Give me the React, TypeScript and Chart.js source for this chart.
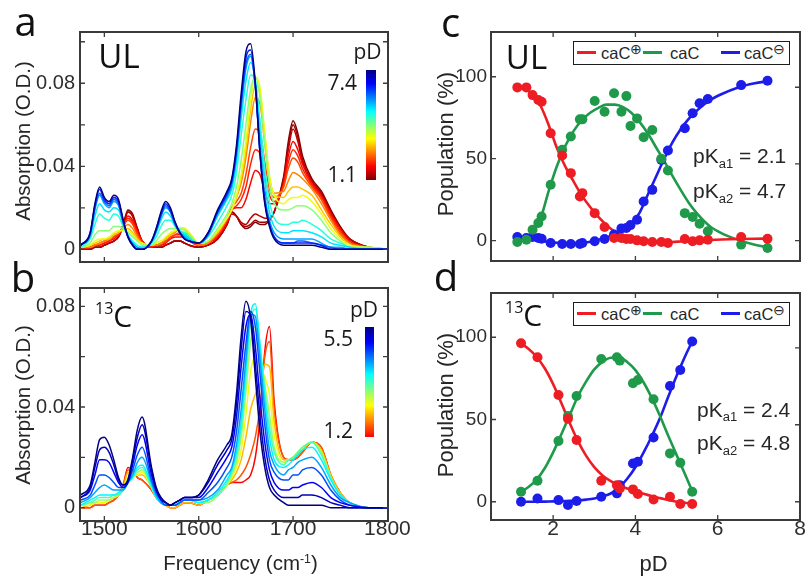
import React, { useEffect, useRef } from 'react';
import { Chart, registerables } from 'chart.js';

Chart.register(...registerables);

// ================= DATA =================
// Frequency grid (cm^-1) shared by all spectra
const FREQ = [1475, 1485, 1490, 1495, 1500, 1505, 1510, 1515, 1520, 1525,
  1530, 1535, 1540, 1550, 1555, 1560, 1565, 1570, 1575, 1580,
  1585, 1590, 1600, 1610, 1620, 1630, 1635, 1640, 1645, 1650,
  1655, 1660, 1665, 1670, 1675, 1680, 1690, 1695, 1700, 1705,
  1710, 1720, 1730, 1740, 1750, 1760, 1780, 1800];

// Panel a: UL spectra (absorption, O.D.) at each pD
const UL_PD = [1.1, 1.3, 1.5, 1.9, 2.1, 2.3, 2.7, 3.1, 3.6, 4.2, 4.8, 5.2, 5.6, 6.0, 6.4, 7.4];
const UL_PD_11 = [0.000, 0.000, 0.001, 0.001, 0.002, 0.003, 0.004, 0.006, 0.012, 0.019,
  0.017, 0.010, 0.004, 0.001, 0.001, 0.001, 0.002, 0.003, 0.004, 0.004,
  0.003, 0.002, 0.001, 0.002, 0.005, 0.012, 0.018, 0.016, 0.012, 0.010,
  0.011, 0.013, 0.012, 0.012, 0.014, 0.018, 0.035, 0.052, 0.062, 0.056,
  0.045, 0.034, 0.028, 0.019, 0.011, 0.005, 0.001, 0.000];
const UL_PD_13 = [0.000, 0.000, 0.001, 0.001, 0.002, 0.003, 0.004, 0.006, 0.012, 0.018,
  0.016, 0.010, 0.004, 0.001, 0.001, 0.001, 0.002, 0.003, 0.004, 0.004,
  0.003, 0.002, 0.001, 0.002, 0.005, 0.012, 0.018, 0.016, 0.012, 0.011,
  0.012, 0.014, 0.013, 0.013, 0.014, 0.018, 0.034, 0.050, 0.060, 0.054,
  0.043, 0.033, 0.027, 0.018, 0.010, 0.005, 0.001, 0.000];
const UL_PD_15 = [0.000, 0.000, 0.001, 0.001, 0.002, 0.003, 0.004, 0.006, 0.011, 0.018,
  0.016, 0.009, 0.004, 0.001, 0.001, 0.001, 0.002, 0.003, 0.004, 0.004,
  0.003, 0.002, 0.001, 0.002, 0.005, 0.012, 0.017, 0.016, 0.013, 0.012,
  0.015, 0.017, 0.016, 0.015, 0.015, 0.018, 0.033, 0.048, 0.058, 0.052,
  0.042, 0.032, 0.026, 0.018, 0.010, 0.005, 0.001, 0.000];
const UL_PD_19 = [0.000, 0.001, 0.002, 0.002, 0.003, 0.004, 0.005, 0.007, 0.011, 0.016,
  0.014, 0.009, 0.004, 0.001, 0.002, 0.002, 0.003, 0.005, 0.006, 0.006,
  0.006, 0.004, 0.002, 0.003, 0.006, 0.013, 0.019, 0.020, 0.020, 0.024,
  0.032, 0.038, 0.036, 0.028, 0.022, 0.022, 0.032, 0.045, 0.052, 0.048,
  0.041, 0.032, 0.026, 0.017, 0.010, 0.004, 0.001, 0.000];
const UL_PD_21 = [0.000, 0.001, 0.002, 0.002, 0.003, 0.004, 0.006, 0.007, 0.011, 0.015,
  0.013, 0.008, 0.004, 0.001, 0.002, 0.002, 0.004, 0.005, 0.007, 0.007,
  0.007, 0.005, 0.002, 0.003, 0.007, 0.014, 0.019, 0.021, 0.024, 0.030,
  0.041, 0.048, 0.046, 0.035, 0.026, 0.023, 0.031, 0.042, 0.048, 0.045,
  0.039, 0.031, 0.025, 0.016, 0.009, 0.004, 0.001, 0.000];
const UL_PD_23 = [0.001, 0.001, 0.002, 0.003, 0.004, 0.005, 0.006, 0.008, 0.011, 0.014,
  0.012, 0.007, 0.003, 0.002, 0.002, 0.003, 0.004, 0.006, 0.007, 0.008,
  0.008, 0.006, 0.002, 0.003, 0.007, 0.014, 0.020, 0.023, 0.027, 0.036,
  0.049, 0.058, 0.056, 0.042, 0.029, 0.025, 0.030, 0.039, 0.044, 0.042,
  0.037, 0.030, 0.024, 0.015, 0.008, 0.003, 0.001, 0.000];
const UL_PD_27 = [0.001, 0.001, 0.002, 0.003, 0.004, 0.005, 0.007, 0.008, 0.010, 0.012,
  0.010, 0.006, 0.003, 0.002, 0.002, 0.003, 0.005, 0.007, 0.008, 0.010,
  0.010, 0.007, 0.002, 0.003, 0.008, 0.015, 0.020, 0.025, 0.032, 0.044,
  0.061, 0.073, 0.070, 0.051, 0.034, 0.027, 0.028, 0.033, 0.037, 0.036,
  0.034, 0.029, 0.022, 0.014, 0.007, 0.003, 0.001, 0.000];
const UL_PD_31 = [0.001, 0.002, 0.003, 0.004, 0.005, 0.005, 0.007, 0.008, 0.010, 0.010,
  0.008, 0.005, 0.003, 0.002, 0.003, 0.004, 0.005, 0.007, 0.009, 0.010,
  0.010, 0.008, 0.003, 0.004, 0.008, 0.015, 0.019, 0.025, 0.034, 0.048,
  0.067, 0.079, 0.075, 0.055, 0.035, 0.026, 0.025, 0.028, 0.030, 0.030,
  0.029, 0.026, 0.019, 0.012, 0.006, 0.002, 0.001, 0.000];
const UL_PD_36 = [0.001, 0.002, 0.004, 0.005, 0.005, 0.006, 0.008, 0.009, 0.009, 0.009,
  0.007, 0.004, 0.003, 0.002, 0.003, 0.004, 0.006, 0.008, 0.009, 0.010,
  0.010, 0.008, 0.003, 0.004, 0.009, 0.015, 0.019, 0.026, 0.036, 0.052,
  0.072, 0.083, 0.078, 0.056, 0.035, 0.026, 0.022, 0.024, 0.025, 0.025,
  0.026, 0.023, 0.017, 0.010, 0.005, 0.002, 0.001, 0.000];
const UL_PD_42 = [0.001, 0.003, 0.007, 0.009, 0.009, 0.009, 0.011, 0.011, 0.010, 0.008,
  0.006, 0.004, 0.002, 0.002, 0.004, 0.007, 0.009, 0.010, 0.010, 0.010,
  0.009, 0.007, 0.003, 0.004, 0.010, 0.017, 0.022, 0.030, 0.043, 0.060,
  0.077, 0.083, 0.073, 0.051, 0.031, 0.022, 0.019, 0.019, 0.020, 0.021,
  0.021, 0.019, 0.014, 0.008, 0.004, 0.001, 0.001, 0.000];
const UL_PD_48 = [0.001, 0.005, 0.012, 0.017, 0.015, 0.014, 0.017, 0.016, 0.011, 0.007,
  0.004, 0.002, 0.001, 0.003, 0.006, 0.011, 0.014, 0.014, 0.011, 0.009,
  0.008, 0.006, 0.003, 0.006, 0.013, 0.021, 0.026, 0.037, 0.055, 0.072,
  0.084, 0.081, 0.062, 0.039, 0.023, 0.015, 0.012, 0.012, 0.013, 0.013,
  0.014, 0.012, 0.009, 0.005, 0.003, 0.001, 0.000, 0.000];
const UL_PD_52 = [0.002, 0.006, 0.016, 0.022, 0.019, 0.018, 0.020, 0.019, 0.012, 0.007,
  0.003, 0.001, 0.001, 0.003, 0.008, 0.014, 0.018, 0.016, 0.012, 0.009,
  0.007, 0.005, 0.003, 0.007, 0.016, 0.024, 0.029, 0.042, 0.063, 0.081,
  0.090, 0.081, 0.056, 0.033, 0.018, 0.011, 0.008, 0.008, 0.009, 0.009,
  0.009, 0.008, 0.006, 0.003, 0.002, 0.001, 0.000, 0.000];
const UL_PD_56 = [0.002, 0.007, 0.019, 0.026, 0.022, 0.020, 0.023, 0.021, 0.013, 0.006,
  0.003, 0.001, 0.000, 0.004, 0.009, 0.016, 0.020, 0.018, 0.012, 0.008,
  0.006, 0.004, 0.003, 0.007, 0.017, 0.025, 0.031, 0.045, 0.068, 0.087,
  0.093, 0.079, 0.050, 0.026, 0.014, 0.008, 0.005, 0.005, 0.005, 0.005,
  0.005, 0.005, 0.003, 0.001, 0.001, 0.000, 0.000, 0.000];
const UL_PD_60 = [0.002, 0.007, 0.020, 0.027, 0.023, 0.021, 0.024, 0.022, 0.013, 0.006,
  0.002, 0.000, 0.000, 0.004, 0.009, 0.016, 0.021, 0.018, 0.012, 0.008,
  0.005, 0.004, 0.003, 0.007, 0.018, 0.026, 0.032, 0.047, 0.070, 0.089,
  0.094, 0.078, 0.047, 0.024, 0.012, 0.006, 0.003, 0.003, 0.003, 0.004,
  0.004, 0.003, 0.002, 0.001, 0.000, 0.000, 0.000, 0.000];
const UL_PD_64 = [0.002, 0.008, 0.021, 0.029, 0.024, 0.022, 0.025, 0.023, 0.014, 0.006,
  0.002, 0.000, 0.000, 0.004, 0.010, 0.017, 0.022, 0.019, 0.013, 0.008,
  0.005, 0.004, 0.003, 0.008, 0.018, 0.027, 0.033, 0.048, 0.072, 0.092,
  0.096, 0.079, 0.046, 0.023, 0.012, 0.006, 0.003, 0.003, 0.003, 0.003,
  0.003, 0.003, 0.002, 0.000, 0.000, 0.000, 0.000, 0.000];
const UL_PD_74 = [0.002, 0.008, 0.022, 0.030, 0.025, 0.023, 0.026, 0.024, 0.014, 0.006,
  0.002, 0.000, 0.000, 0.004, 0.010, 0.018, 0.023, 0.020, 0.013, 0.008,
  0.005, 0.004, 0.003, 0.008, 0.019, 0.028, 0.034, 0.050, 0.075, 0.095,
  0.099, 0.080, 0.046, 0.022, 0.011, 0.005, 0.002, 0.002, 0.002, 0.002,
  0.002, 0.002, 0.001, 0.000, 0.000, 0.000, 0.000, 0.000];
const UL_SPECTRA = [UL_PD_11, UL_PD_13, UL_PD_15, UL_PD_19, UL_PD_21, UL_PD_23, UL_PD_27, UL_PD_31,
  UL_PD_36, UL_PD_42, UL_PD_48, UL_PD_52, UL_PD_56, UL_PD_60, UL_PD_64, UL_PD_74];

// Panel b: 13C spectra
const C13_PD = [1.2, 1.6, 2.1, 2.5, 2.9, 3.3, 3.7, 4.1, 4.5, 4.9, 5.2, 5.5];
const C13_PD_12 = [0.000, 0.000, 0.001, 0.001, 0.001, 0.002, 0.003, 0.005, 0.009, 0.016,
  0.015, 0.012, 0.011, 0.007, 0.004, 0.002, 0.001, 0.000, 0.000, 0.001,
  0.002, 0.002, 0.001, 0.003, 0.005, 0.009, 0.010, 0.010, 0.010, 0.011,
  0.013, 0.020, 0.036, 0.062, 0.072, 0.042, 0.020, 0.019, 0.019, 0.020,
  0.022, 0.026, 0.024, 0.013, 0.006, 0.002, 0.000, 0.000];
const C13_PD_16 = [0.000, 0.000, 0.001, 0.001, 0.001, 0.002, 0.003, 0.005, 0.009, 0.015,
  0.015, 0.012, 0.011, 0.007, 0.004, 0.002, 0.001, 0.000, 0.000, 0.001,
  0.002, 0.002, 0.001, 0.003, 0.005, 0.009, 0.010, 0.011, 0.013, 0.016,
  0.021, 0.028, 0.040, 0.060, 0.066, 0.039, 0.020, 0.019, 0.019, 0.020,
  0.022, 0.026, 0.024, 0.013, 0.006, 0.002, 0.000, 0.000];
const C13_PD_21 = [0.000, 0.001, 0.002, 0.002, 0.002, 0.003, 0.004, 0.005, 0.008, 0.014,
  0.014, 0.013, 0.013, 0.008, 0.004, 0.002, 0.001, 0.000, 0.000, 0.001,
  0.002, 0.002, 0.001, 0.003, 0.005, 0.009, 0.011, 0.014, 0.019, 0.028,
  0.039, 0.045, 0.049, 0.057, 0.056, 0.034, 0.019, 0.019, 0.020, 0.021,
  0.023, 0.026, 0.023, 0.013, 0.006, 0.002, 0.000, 0.000];
const C13_PD_25 = [0.001, 0.001, 0.002, 0.002, 0.002, 0.003, 0.004, 0.005, 0.008, 0.012,
  0.013, 0.013, 0.014, 0.008, 0.004, 0.002, 0.001, 0.001, 0.001, 0.002,
  0.003, 0.003, 0.002, 0.003, 0.005, 0.009, 0.012, 0.016, 0.023, 0.037,
  0.054, 0.060, 0.056, 0.052, 0.045, 0.029, 0.018, 0.019, 0.020, 0.022,
  0.024, 0.026, 0.022, 0.012, 0.005, 0.002, 0.000, 0.000];
const C13_PD_29 = [0.001, 0.002, 0.002, 0.003, 0.003, 0.003, 0.004, 0.005, 0.008, 0.011,
  0.012, 0.014, 0.015, 0.008, 0.004, 0.002, 0.001, 0.001, 0.001, 0.002,
  0.003, 0.003, 0.002, 0.002, 0.005, 0.009, 0.013, 0.018, 0.028, 0.046,
  0.066, 0.072, 0.062, 0.049, 0.037, 0.024, 0.018, 0.019, 0.020, 0.022,
  0.024, 0.026, 0.022, 0.012, 0.005, 0.002, 0.000, 0.000];
const C13_PD_33 = [0.001, 0.002, 0.003, 0.004, 0.004, 0.004, 0.005, 0.005, 0.007, 0.010,
  0.012, 0.015, 0.016, 0.008, 0.004, 0.002, 0.001, 0.001, 0.001, 0.002,
  0.003, 0.003, 0.002, 0.003, 0.005, 0.010, 0.014, 0.020, 0.031, 0.051,
  0.074, 0.079, 0.065, 0.047, 0.032, 0.022, 0.017, 0.019, 0.020, 0.022,
  0.024, 0.026, 0.021, 0.012, 0.005, 0.002, 0.000, 0.000];
const C13_PD_37 = [0.001, 0.003, 0.004, 0.005, 0.005, 0.005, 0.005, 0.006, 0.007, 0.010,
  0.012, 0.016, 0.017, 0.009, 0.004, 0.002, 0.001, 0.001, 0.001, 0.002,
  0.003, 0.003, 0.002, 0.003, 0.006, 0.011, 0.015, 0.022, 0.034, 0.055,
  0.077, 0.081, 0.064, 0.044, 0.028, 0.019, 0.016, 0.017, 0.019, 0.021,
  0.023, 0.024, 0.019, 0.011, 0.005, 0.002, 0.000, 0.000];
const C13_PD_41 = [0.002, 0.004, 0.006, 0.008, 0.009, 0.008, 0.007, 0.007, 0.007, 0.010,
  0.013, 0.018, 0.020, 0.010, 0.005, 0.002, 0.001, 0.001, 0.001, 0.002,
  0.003, 0.003, 0.003, 0.004, 0.007, 0.013, 0.016, 0.025, 0.039, 0.059,
  0.077, 0.076, 0.059, 0.039, 0.023, 0.017, 0.013, 0.015, 0.016, 0.018,
  0.019, 0.020, 0.016, 0.009, 0.004, 0.002, 0.000, 0.000];
const C13_PD_45 = [0.003, 0.005, 0.009, 0.013, 0.013, 0.012, 0.010, 0.008, 0.008, 0.010,
  0.015, 0.021, 0.024, 0.011, 0.006, 0.003, 0.001, 0.001, 0.001, 0.002,
  0.003, 0.003, 0.003, 0.006, 0.010, 0.016, 0.020, 0.030, 0.047, 0.065,
  0.078, 0.072, 0.053, 0.033, 0.019, 0.014, 0.011, 0.011, 0.013, 0.013,
  0.015, 0.016, 0.013, 0.007, 0.003, 0.001, 0.000, 0.000];
const C13_PD_49 = [0.004, 0.007, 0.013, 0.019, 0.019, 0.018, 0.014, 0.010, 0.008, 0.010,
  0.017, 0.025, 0.029, 0.013, 0.007, 0.003, 0.002, 0.001, 0.002, 0.003,
  0.004, 0.004, 0.004, 0.008, 0.014, 0.020, 0.024, 0.036, 0.056, 0.072,
  0.077, 0.064, 0.043, 0.026, 0.015, 0.010, 0.007, 0.007, 0.008, 0.008,
  0.009, 0.010, 0.008, 0.004, 0.002, 0.001, 0.000, 0.000];
const C13_PD_52 = [0.004, 0.008, 0.016, 0.023, 0.024, 0.022, 0.017, 0.011, 0.009, 0.011,
  0.019, 0.028, 0.033, 0.015, 0.007, 0.004, 0.002, 0.001, 0.002, 0.003,
  0.004, 0.004, 0.005, 0.010, 0.017, 0.023, 0.027, 0.041, 0.063, 0.078,
  0.076, 0.057, 0.036, 0.020, 0.011, 0.007, 0.004, 0.004, 0.004, 0.004,
  0.005, 0.005, 0.004, 0.002, 0.001, 0.000, 0.000, 0.000];
const C13_PD_55 = [0.005, 0.009, 0.018, 0.027, 0.028, 0.025, 0.019, 0.012, 0.009, 0.011,
  0.020, 0.031, 0.036, 0.016, 0.008, 0.004, 0.002, 0.001, 0.002, 0.003,
  0.004, 0.004, 0.005, 0.011, 0.019, 0.025, 0.029, 0.045, 0.068, 0.082,
  0.075, 0.052, 0.030, 0.016, 0.008, 0.005, 0.002, 0.001, 0.001, 0.001,
  0.001, 0.001, 0.001, 0.000, 0.000, 0.000, 0.000, 0.000];
const C13_SPECTRA = [C13_PD_12, C13_PD_16, C13_PD_21, C13_PD_25, C13_PD_29, C13_PD_33,
  C13_PD_37, C13_PD_41, C13_PD_45, C13_PD_49, C13_PD_52, C13_PD_55];

// Panel c: UL populations (%)
const UL_PTS_PD = [1.13, 1.35, 1.50, 1.64, 1.72, 1.94, 2.22, 2.43, 2.65, 2.71, 3.01, 3.25, 3.48, 3.66,
  3.78, 3.88, 4.04, 4.20, 4.41, 4.63, 4.79, 5.20, 5.39, 5.56, 5.76, 6.57, 7.21];
const UL_CATION = [93.5, 93.5, 88.8, 85.8, 84.8, 65.5, 52.0, 41.2, 27.0, 29.0, 16.8, 8.3, 1.6, 1.6,
  1.0, 1.0, 0.2, -0.4, -0.8, -0.8, -1.4, 1.0, -0.4, 0.2, 0.6, 2.2, 1.2];
const UL_NEUTRAL = [-0.8, 0.6, 6.7, 10.8, 14.8, 34.1, 55.4, 63.5, 74.0, 74.0, 85.2, 78.7, 89.9, 78.7,
  88.2, 70.0, 74.6, 63.1, 67.5, 50.0, 42.8, 16.8, 14.4, 10.3, 5.7, -2.4, -4.5];
const UL_ANION = [2.2, 1.6, 2.2, 1.6, 1.2, -1.4, -2.0, -2.0, -2.0, -1.4, -0.4, 1.0, 3.7, 7.5,
  7.7, 9.5, 12.8, 23.9, 31.0, 49.3, 55.0, 68.6, 77.7, 83.8, 86.4, 94.9, 97.6];
const UL_FIT_PD = [1.13, 1.3, 1.5, 1.7, 1.9, 2.1, 2.3, 2.5, 2.7, 2.9, 3.1, 3.3, 3.5, 3.7,
  3.9, 4.1, 4.3, 4.5, 4.7, 4.9, 5.1, 5.3, 5.5, 5.8, 6.1, 6.5, 6.9, 7.21];
const UL_FIT_CATION = [94.5, 93, 89, 82, 70, 56, 45, 36, 27.5, 20.5, 14.5, 9.5, 5.5, 3,
  1.5, 0.3, -0.5, -1, -1, -0.8, -0.5, -0.2, 0, 0.4, 0.7, 1, 1.2, 1.3];
const UL_FIT_NEUTRAL = [-0.5, 1, 5, 14, 31, 46, 58, 67, 73.5, 78, 81, 83, 83, 81.5,
  78, 72.5, 65.5, 57, 48.5, 39.5, 31, 23, 16.5, 9, 4.5, 0.5, -2.5, -4];
const UL_FIT_ANION = [2.2, 1.8, 1, 0, -0.8, -1.3, -1.6, -1.6, -1.3, -0.6, 0.5, 2, 4, 7,
  10.5, 17, 28, 39, 50, 60, 68, 74.5, 79.5, 85.5, 89.5, 93.5, 96, 97.3];

// Panel d: 13C populations (%)
const C13_PTS_PD = [1.22, 1.62, 2.13, 2.36, 2.57, 3.17, 3.55, 3.62, 3.94, 4.06, 4.44, 4.84, 5.09, 5.38];
const C13_CATION = [96.3, 87.8, 64.9, 50.5, 37.5, 12.8, 10.1, 8.0, 7.5, 4.7, 1.4, 3.0, -1.4, -1.4];
const C13_NEUTRAL = [6.1, 12.8, 36.9, 52.1, 64.3, 86.8, 87.8, 85.8, 72.0, 74.0, 62.3, 29.4, 23.7, 6.1];
const C13_ANION = [0, 2.0, 1.0, -2.0, 0.4, 3.0, 5.1, 10.1, 23.3, 24.3, 39.1, 70.4, 80.1, 97.4];
const C13_FIT_PD = [1.22, 1.4, 1.6, 1.8, 2.0, 2.2, 2.4, 2.6, 2.8, 3.0, 3.2, 3.4, 3.6, 3.8,
  4.0, 4.2, 4.4, 4.6, 4.8, 5.0, 5.2, 5.38];
const C13_FIT_CATION = [96.3, 93, 88, 81, 71.5, 60, 48, 37, 28, 21, 16, 12.5, 10, 8,
  6.3, 4.8, 3.4, 2.2, 1, 0, -0.6, -1];
const C13_FIT_NEUTRAL = [6, 9, 13.5, 20.5, 30, 41, 52.5, 64, 73, 80.5, 85, 87.5, 87.7, 85,
  80, 72.5, 63, 52, 40, 28.5, 17, 6.5];
const C13_FIT_ANION = [0, 0, 0, 0.1, 0.2, 0.3, 0.5, 0.8, 1.3, 2.0, 3.2, 5, 8.5, 14,
  21, 30, 40, 51, 64, 76.5, 88, 97.5];

// Right-hand tick marks of the population panels (as drawn in the figure)
const POP_RIGHT_TICKS = [0, 46.8, 93.6];

// Annotation values
const UL_PKA = ['2.1', '4.7'];
const C13_PKA = ['2.4', '4.8'];
const UL_PD_RANGE = ['7.4', '1.1'];
const C13_PD_RANGE = ['5.5', '1.2'];

// ================= STYLE =================
const ARIAL = '"Liberation Sans", Arial, Helvetica, sans-serif';
const OPEN = '"Open Sans", "Noto Sans", "DejaVu Sans", sans-serif';
const INK = '#262626';
const TICK_INK = '#2e2e2e';
const RED = '#ee1d23';
const GREEN = '#1f9a4b';
const BLUE = '#1d1de9';
const LP = 6;
const AXW = 60;

function jet(v: number): string {
  const c = (x: number) => Math.max(0, Math.min(1, x));
  const r = c(1.5 - Math.abs(4 * v - 3));
  const g = c(1.5 - Math.abs(4 * v - 2));
  const b = c(1.5 - Math.abs(4 * v - 1));
  return `rgb(${Math.round(r * 255)},${Math.round(g * 255)},${Math.round(b * 255)})`;
}

const JET_FULL =
  'linear-gradient(to bottom, rgb(0,0,128) 0%, rgb(0,0,255) 12.5%, rgb(0,255,255) 37.5%, rgb(255,255,0) 62.5%, rgb(255,0,0) 87.5%, rgb(128,0,0) 100%)';
const JET_TO_RED =
  'linear-gradient(to bottom, rgb(0,0,128) 0%, rgb(0,0,255) 14.3%, rgb(0,255,255) 42.9%, rgb(255,255,0) 71.4%, rgb(255,0,0) 100%)';

const framePlugin = {
  id: 'frame',
  afterDatasetsDraw(chart: any, _args: any, opts: any) {
    const { ctx, chartArea: a, scales } = chart;
    const L = 5;
    ctx.save();
    ctx.strokeStyle = '#3d3d3d';
    ctx.lineWidth = 1.3;
    ctx.beginPath();
    for (const t of scales.x.ticks) {
      const p = scales.x.getPixelForValue(t.value);
      if (p > a.left + 2 && p < a.right - 2) {
        ctx.moveTo(p, a.bottom); ctx.lineTo(p, a.bottom - L);
        ctx.moveTo(p, a.top); ctx.lineTo(p, a.top + L);
      }
    }
    const yl = scales.y.ticks.map((t: any) => t.value);
    const yr = opts && opts.rightTicks ? opts.rightTicks : yl;
    for (const v of yl) {
      const p = scales.y.getPixelForValue(v);
      if (p > a.top + 2 && p < a.bottom - 2) { ctx.moveTo(a.left, p); ctx.lineTo(a.left + L, p); }
    }
    for (const v of yr) {
      const p = scales.y.getPixelForValue(v);
      if (p > a.top + 2 && p < a.bottom - 2) { ctx.moveTo(a.right, p); ctx.lineTo(a.right - L, p); }
    }
    ctx.stroke();
    ctx.lineWidth = 2;
    ctx.strokeStyle = '#3a3a3a';
    ctx.strokeRect(a.left, a.top, a.right - a.left, a.bottom - a.top);
    ctx.restore();
  },
};

function baseOptions(o: any) {
  return {
    animation: false,
    responsive: false,
    maintainAspectRatio: false,
    events: [],
    layout: { padding: { left: LP, top: LP, right: o.padR, bottom: LP } },
    plugins: { legend: { display: false }, tooltip: { enabled: false }, frame: { rightTicks: o.rightTicks } },
    scales: {
      x: {
        type: 'linear', min: o.xMin, max: o.xMax,
        grid: { display: false, drawTicks: false }, border: { display: false },
        ticks: {
          display: o.showX, stepSize: o.xStep, autoSkip: false, maxRotation: 0, minRotation: 0,
          includeBounds: false, padding: o.xPad, color: TICK_INK,
          font: { family: ARIAL, size: 21, lineHeight: 1 },
          callback: (v: number) => String(v),
        },
        afterFit: (s: any) => { s.height = o.axisH; s.paddingLeft = 0; s.paddingRight = 0; },
      },
      y: {
        type: 'linear', min: o.yMin, max: o.yMax,
        grid: { display: false, drawTicks: false }, border: { display: false },
        ticks: {
          stepSize: o.yStep, autoSkip: false, includeBounds: false, padding: o.yPad, color: TICK_INK,
          font: { family: ARIAL, size: o.yFont, lineHeight: 1 },
          callback: o.yLabel,
        },
        afterFit: (s: any) => { s.width = AXW; s.paddingTop = 0; s.paddingBottom = 0; },
      },
    },
  };
}

const spectraYLabel = (v: number) => {
  const r = Math.round(v * 100) / 100;
  if (r === 0) return '0';
  if (r === 0.04 || r === 0.08) return r.toFixed(2);
  return '';
};

function makeSpectra(canvas: HTMLCanvasElement, o: any) {
  const datasets = o.pds.map((pd: number, k: number) => ({
    data: FREQ.map((f, i) => ({ x: f, y: o.spectra[k][i] })),
    borderColor: jet(o.vMax * (o.pdHi - pd) / (o.pdHi - o.pdLo)),
    borderWidth: 1.5,
    pointRadius: 0,
    fill: false,
    cubicInterpolationMode: 'monotone',
  })).reverse();
  return new Chart(canvas, {
    type: 'line',
    data: { datasets },
    options: baseOptions({
      xMin: 1474.2, xMax: 1800.6, xStep: 100, showX: o.showX, xPad: -2, axisH: o.axisH, padR: 30,
      yMin: o.yMin, yMax: o.yMax, yStep: 0.02, yPad: 5, yFont: 20, yLabel: spectraYLabel,
    }) as any,
    plugins: [framePlugin],
  } as any);
}

function makePop(canvas: HTMLCanvasElement, o: any) {
  const mk = (xs: number[], ys: number[]) => xs.map((x, i) => ({ x, y: ys[i] }));
  const fit = (ys: number[], c: string) => ({
    data: mk(o.fitPd, ys), borderColor: c, borderWidth: 2.6, pointRadius: 0, fill: false,
    cubicInterpolationMode: 'monotone',
  });
  const pts = (ys: number[], c: string) => ({
    data: mk(o.ptsPd, ys), showLine: false, borderColor: c, backgroundColor: c,
    pointBackgroundColor: c, pointBorderColor: c, pointBorderWidth: 0, pointRadius: 5,
  });
  return new Chart(canvas, {
    type: 'line',
    data: {
      datasets: [pts(o.cat, RED), pts(o.neu, GREEN), pts(o.ani, BLUE),
        fit(o.fitCat, RED), fit(o.fitNeu, GREEN), fit(o.fitAni, BLUE)],
    },
    options: baseOptions({
      xMin: 0.49, xMax: 8, xStep: 2, showX: o.showX, xPad: -1, axisH: o.axisH, padR: 8,
      yMin: o.yMin, yMax: o.yMax, yStep: 50, yPad: 4, yFont: 19, yLabel: (v: number) => String(v),
      rightTicks: POP_RIGHT_TICKS,
    }) as any,
    plugins: [framePlugin],
  } as any);
}

function ChartCanvas({ box, axisH, padR, make }: any) {
  const ref = useRef<HTMLCanvasElement | null>(null);
  useEffect(() => {
    const chart = make(ref.current);
    return () => chart.destroy();
  }, []);
  const w = LP + AXW + (box.r - box.l) + padR;
  const h = LP * 2 + axisH + (box.b - box.t);
  return (
    <canvas ref={ref} width={w} height={h}
      style={{ position: 'absolute', left: box.l - AXW - LP, top: box.t - LP, width: w, height: h }} />
  );
}

function Txt({ x, y, size, font = ARIAL, anchor = 'center', rot = 0, color = INK, children }: any) {
  const tx = anchor === 'left' ? '0%' : anchor === 'right' ? '-100%' : '-50%';
  return (
    <div style={{
      position: 'absolute', left: x, top: y, fontSize: size, fontFamily: font, lineHeight: 1,
      whiteSpace: 'nowrap', color, transform: `translate(${tx}, -50%)` + (rot ? ` rotate(${rot}deg)` : ''),
    }}>{children}</div>
  );
}

const Sub = ({ children }: any) => (
  <span style={{ fontSize: '0.62em', position: 'relative', top: '0.38em' }}>{children}</span>
);
const Sup = ({ children, top = '-0.5em', size = '0.6em' }: any) => (
  <span style={{ fontSize: size, position: 'relative', top }}>{children}</span>
);

function Legend({ top }: { top: number }) {
  const cy = top + 11.75;
  const seg = (left: number, width: number, c: string) => (
    <div style={{ position: 'absolute', left, top: cy - 1.5, width, height: 3, background: c }} />
  );
  return (
    <>
      <div style={{
        position: 'absolute', left: 573, top, width: 216.5, height: 23.5,
        border: '1.5px solid #1c1c1c', boxSizing: 'border-box', background: '#fff',
      }} />
      {seg(577, 18.5, RED)}
      <Txt x={601} y={cy} size={16.5} anchor="left">caC<Sup top="-0.36em" size="0.82em">⊕</Sup></Txt>
      {seg(642.5, 19, GREEN)}
      <Txt x={670} y={cy} size={16.5} anchor="left">caC</Txt>
      {seg(721, 18.5, BLUE)}
      <Txt x={744} y={cy} size={16.5} anchor="left">caC<Sup top="-0.36em" size="0.82em">⊖</Sup></Txt>
    </>
  );
}

function PKa({ x, y1, y2, vals }: any) {
  return (
    <>
      <Txt x={x} y={y1} size={21} anchor="left">pK<Sub>a1</Sub> = {vals[0]}</Txt>
      <Txt x={x} y={y2} size={21} anchor="left">pK<Sub>a2</Sub> = {vals[1]}</Txt>
    </>
  );
}

function ColorBar({ left, top, width, height, labels, pdY, topY, botY, labelRight, pdX, gradient }: any) {
  return (
    <>
      <div style={{ position: 'absolute', left, top, width, height, background: gradient }} />
      <Txt x={pdX} y={pdY} size={21} font={OPEN} color="#1a1a1a">pD</Txt>
      <Txt x={labelRight} y={topY} size={21} font={OPEN} anchor="right" color="#1a1a1a">{labels[0]}</Txt>
      <Txt x={labelRight} y={botY} size={21} font={OPEN} anchor="right" color="#1a1a1a">{labels[1]}</Txt>
    </>
  );
}

function Iso({ x, y }: any) {
  return (
    <div style={{
      position: 'absolute', left: x, top: y, transform: 'translate(0,-50%)', fontFamily: OPEN,
      lineHeight: 1, whiteSpace: 'nowrap', color: '#111', fontSize: 30,
    }}>
      <span style={{ fontSize: 16, position: 'relative', top: -13 }}>13</span>C
    </div>
  );
}

const BOX_A = { l: 80, t: 32, r: 388, b: 262 };
const BOX_B = { l: 80, t: 288, r: 388, b: 521 };
const BOX_C = { l: 491, t: 32, r: 800, b: 261 };
const BOX_D = { l: 491, t: 293, r: 800, b: 520 };

export default function App() {
  return (
    <div style={{ position: 'fixed', left: 0, top: 0, width: 809, height: 576, background: '#fff', overflow: 'hidden' }}>
      <ChartCanvas box={BOX_A} axisH={6} padR={30} make={(c: HTMLCanvasElement) => makeSpectra(c, {
        pds: UL_PD, spectra: UL_SPECTRA, pdLo: 1.1, pdHi: 7.4, vMax: 1, yMin: -0.0061, yMax: 0.1047, showX: false, axisH: 6,
      })} />
      <ChartCanvas box={BOX_B} axisH={30} padR={30} make={(c: HTMLCanvasElement) => makeSpectra(c, {
        pds: C13_PD, spectra: C13_SPECTRA, pdLo: 1.2, pdHi: 5.5, vMax: 0.875, yMin: -0.0053, yMax: 0.0873, showX: true, axisH: 30,
      })} />
      <ChartCanvas box={BOX_C} axisH={6} padR={8} make={(c: HTMLCanvasElement) => makePop(c, {
        ptsPd: UL_PTS_PD, cat: UL_CATION, neu: UL_NEUTRAL, ani: UL_ANION,
        fitPd: UL_FIT_PD, fitCat: UL_FIT_CATION, fitNeu: UL_FIT_NEUTRAL, fitAni: UL_FIT_ANION,
        yMin: -12.4, yMax: 127.3, showX: false, axisH: 6,
      })} />
      <ChartCanvas box={BOX_D} axisH={30} padR={8} make={(c: HTMLCanvasElement) => makePop(c, {
        ptsPd: C13_PTS_PD, cat: C13_CATION, neu: C13_NEUTRAL, ani: C13_ANION,
        fitPd: C13_FIT_PD, fitCat: C13_FIT_CATION, fitNeu: C13_FIT_NEUTRAL, fitAni: C13_FIT_ANION,
        yMin: -11.1, yMax: 126.9, showX: true, axisH: 30,
      })} />

      {/* panel letters */}
      <Txt x={25.5} y={21} size={40} font={OPEN} color="#111">a</Txt>
      <Txt x={23} y={276.5} size={40} font={OPEN} color="#111">b</Txt>
      <Txt x={450.5} y={22} size={40} font={OPEN} color="#111">c</Txt>
      <Txt x={446} y={276} size={40} font={OPEN} color="#111">d</Txt>

      {/* sample labels */}
      <Txt x={119} y={54.5} size={33} font={OPEN} color="#111">UL</Txt>
      <Txt x={526.5} y={55.5} size={33} font={OPEN} color="#111">UL</Txt>
      <Iso x={95} y={315.7} />
      <Iso x={505} y={315} />

      {/* colour bars */}
      <ColorBar left={366} top={70} width={9.5} height={110} labels={UL_PD_RANGE} gradient={JET_FULL}
        pdX={367.5} pdY={51} topY={82} botY={173.5} labelRight={357} />
      <ColorBar left={365} top={327} width={8.5} height={110} labels={C13_PD_RANGE} gradient={JET_TO_RED}
        pdX={364} pdY={308.5} topY={337.5} botY={430} labelRight={353} />

      {/* axis titles */}
      <Txt x={23} y={141} size={20.5} rot={-90}>Absorption (O.D.)</Txt>
      <Txt x={23} y={405} size={20.5} rot={-90}>Absorption (O.D.)</Txt>
      <Txt x={240.5} y={563} size={20.5}>Frequency (cm<Sup top="-0.55em" size="0.6em">-1</Sup>)</Txt>
      <Txt x={446} y={143.5} size={22} rot={-90}>Population (%)</Txt>
      <Txt x={446} y={405} size={22} rot={-90}>Population (%)</Txt>
      <Txt x={653.5} y={564} size={22}>pD</Txt>

      {/* legends */}
      <Legend top={41} />
      <Legend top={302} />

      {/* pKa annotations */}
      <PKa x={693} y1={155.3} y2={190.3} vals={UL_PKA} />
      <PKa x={697} y1={408.5} y2={442} vals={C13_PKA} />
    </div>
  );
}
